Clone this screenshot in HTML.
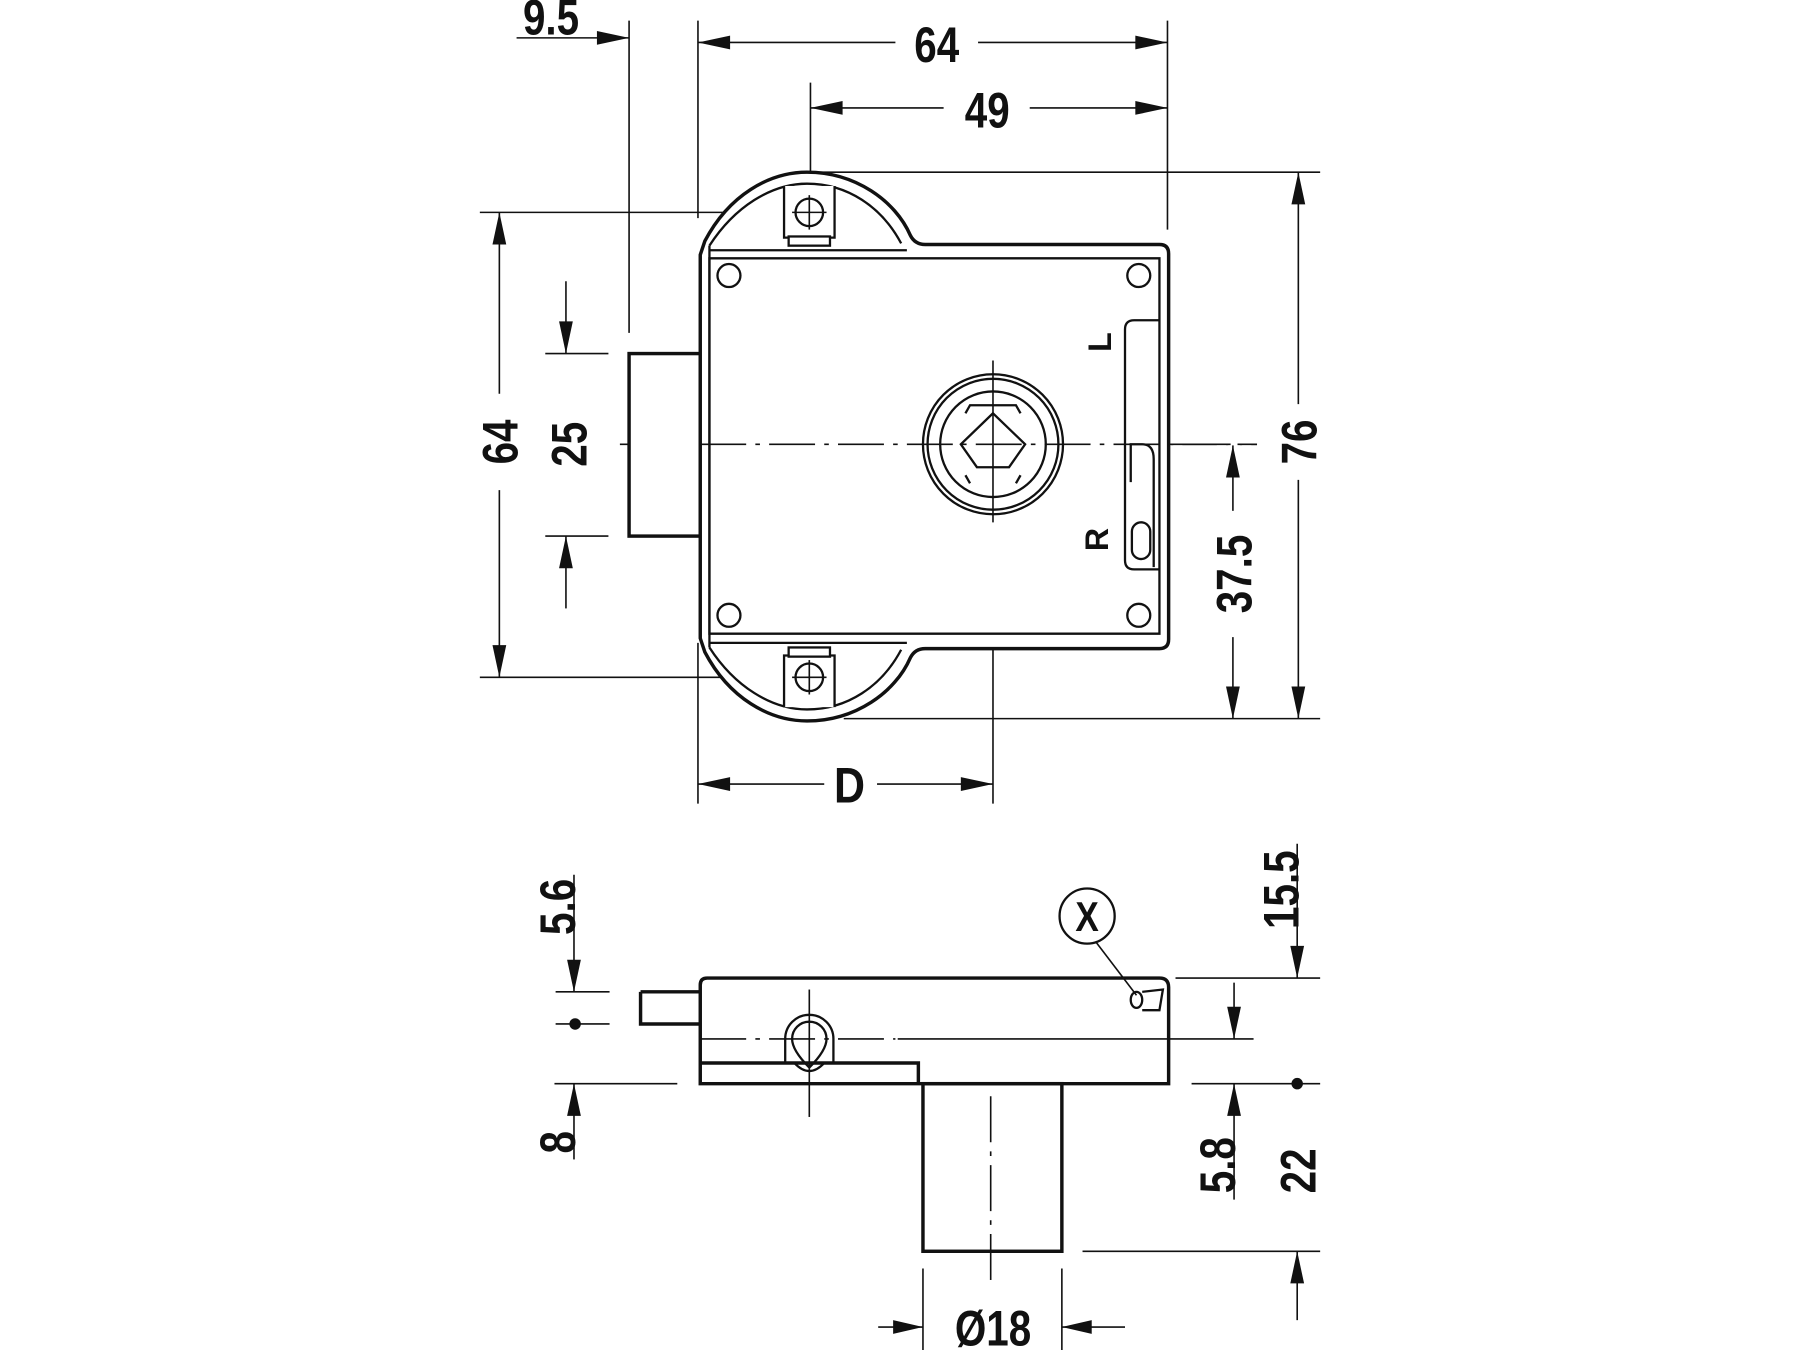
<!DOCTYPE html>
<html><head><meta charset="utf-8"><style>
html,body{margin:0;padding:0;background:#fff;}
svg{display:block;}
text{font-family:"Liberation Sans",sans-serif;font-weight:bold;fill:#111;}
</style></head><body>
<svg width="1800" height="1350" viewBox="0 0 1568 1176" preserveAspectRatio="none" xmlns="http://www.w3.org/2000/svg">
<g stroke="#111" fill="none" stroke-width="1.4">
<line x1="450" y1="33" x2="548" y2="33"/>
<line x1="548" y1="18" x2="548" y2="290"/>
<line x1="608" y1="18" x2="608" y2="190"/>
<line x1="1017" y1="18" x2="1017" y2="200"/>
<line x1="706" y1="72" x2="706" y2="200"/>
<line x1="608" y1="37" x2="780" y2="37"/><line x1="852" y1="37" x2="1017" y2="37"/>
<line x1="706" y1="94" x2="822" y2="94"/><line x1="897" y1="94" x2="1017" y2="94"/>
<line x1="706" y1="150" x2="1150" y2="150"/>
<line x1="418" y1="185" x2="720" y2="185"/>
<line x1="418" y1="590" x2="720" y2="590"/>
<line x1="435" y1="185" x2="435" y2="343"/><line x1="435" y1="427" x2="435" y2="590"/>
<line x1="493" y1="245" x2="493" y2="308"/><line x1="493" y1="467" x2="493" y2="530"/>
<line x1="475" y1="308" x2="530" y2="308"/><line x1="475" y1="467" x2="530" y2="467"/>
<line x1="540" y1="387" x2="1095" y2="387" stroke-dasharray="40 8 4 8"/>
<line x1="1131" y1="150" x2="1131" y2="352"/><line x1="1131" y1="418" x2="1131" y2="626"/>
<line x1="1074" y1="388" x2="1074" y2="445"/><line x1="1074" y1="555" x2="1074" y2="626"/>
<line x1="735" y1="626" x2="1150" y2="626"/>
<line x1="608" y1="560" x2="608" y2="700"/>
<line x1="865" y1="470" x2="865" y2="700"/>
<line x1="865" y1="314" x2="865" y2="455"/>
<line x1="608" y1="683" x2="718" y2="683"/><line x1="764" y1="683" x2="865" y2="683"/>
</g>
<g fill="#111" stroke="none">
<polygon points="548,33 520,27 520,39"/>
<polygon points="608,37 636,31 636,43"/><polygon points="1017,37 989,31 989,43"/>
<polygon points="706,94 734,88 734,100"/><polygon points="1017,94 989,88 989,100"/>
<polygon points="435,185 429,213 441,213"/><polygon points="435,590 429,562 441,562"/>
<polygon points="493,308 487,280 499,280"/><polygon points="493,467 487,495 499,495"/>
<polygon points="1131,150 1125,178 1137,178"/><polygon points="1131,626 1125,598 1137,598"/>
<polygon points="1074,388 1068,416 1080,416"/><polygon points="1074,626 1068,598 1080,598"/>
<polygon points="608,683 636,677 636,689"/><polygon points="865,683 837,677 837,689"/>
</g>
<g stroke="#111" fill="none" stroke-width="3">
<rect x="548" y="308" width="62" height="159" fill="#fff"/>
<path d="M610,222 L614,210 C635,170 670,150 703,150 C745,150 780,175 793,205 Q797,213 806,213 L1010,213 Q1018,213 1018,221 L1018,557 Q1018,565 1010,565 L806,565 Q797,565 793,573 C780,603 745,628 703,628 C670,628 635,608 614,568 L610,556 Z" fill="#fff"/>
</g>
<g stroke="#111" fill="none" stroke-width="2">
<path d="M618,214 C640,180 672,160 703,160 C738,160 768,180 785,212"/>
<path d="M618,564 C640,598 672,618 703,618 C738,618 768,598 785,566"/>
<line x1="618" y1="218" x2="790" y2="218"/>
<line x1="618" y1="560" x2="790" y2="560"/>
<path d="M618,225 L1010,225 L1010,552 L618,552 Z"/>
<line x1="618" y1="214" x2="618" y2="564"/>
<rect x="683" y="162" width="44" height="44" fill="#fff" stroke="none"/>
<path d="M683,162 L683,207 L727,207 L727,162"/>
<rect x="687" y="206" width="36" height="8" fill="#fff"/>
<rect x="683" y="572" width="44" height="44" fill="#fff" stroke="none"/>
<path d="M683,616 L683,571 L727,571 L727,616"/>
<rect x="687" y="564" width="36" height="8" fill="#fff"/>
<circle cx="705" cy="185" r="12"/><circle cx="705" cy="590" r="12"/>
<circle cx="635" cy="240" r="10"/><circle cx="992" cy="240" r="10"/>
<circle cx="635" cy="536" r="10"/><circle cx="992" cy="536" r="10"/>
<circle cx="865" cy="387" r="61"/><circle cx="865" cy="387" r="57"/>
<circle cx="865" cy="387" r="46"/>
<path d="M841,360 L845,353 L885,353 L889,360"/>
<path d="M841,414 L845,421 M889,414 L885,421"/>
<polygon points="865,360 893,387 879,407 851,407 837,387"/>
<path d="M1010,279 L988,279 Q980,279 980,287 L980,488 Q980,496 988,496 L1010,496"/>
<path d="M985,420 L985,387 L995,387 Q1005,387 1005,400 L1005,494"/>
<rect x="986" y="455" width="16" height="32" rx="8"/>
</g>
<g stroke="#111" stroke-width="1.4">
<line x1="865" y1="314" x2="865" y2="455"/>
<line x1="705" y1="170" x2="705" y2="200"/>
<line x1="690" y1="185" x2="720" y2="185"/>
<line x1="705" y1="575" x2="705" y2="605"/>
<line x1="690" y1="590" x2="720" y2="590"/>
<line x1="610" y1="387" x2="1095" y2="387" stroke-dasharray="40 8 4 8"/>
</g>

<g stroke="#111" fill="none" stroke-width="1.4">
<line x1="705" y1="862" x2="705" y2="973"/>
<line x1="610" y1="905" x2="780" y2="905" stroke-dasharray="40 8 4 8"/>
<line x1="782" y1="905" x2="1092" y2="905"/>
<line x1="863" y1="955" x2="863" y2="1115" stroke-dasharray="40 8 4 8"/>
<line x1="500" y1="762" x2="500" y2="864"/>
<line x1="484" y1="864" x2="531" y2="864"/>
<line x1="484" y1="892" x2="531" y2="892"/>
<line x1="483" y1="944" x2="590" y2="944"/>
<line x1="500" y1="944" x2="500" y2="1010"/>
<line x1="1130" y1="735" x2="1130" y2="852"/>
<line x1="1024" y1="852" x2="1150" y2="852"/>
<line x1="1075" y1="856" x2="1075" y2="905"/>
<line x1="1075" y1="944" x2="1075" y2="1045"/>
<line x1="1038" y1="944" x2="1150" y2="944"/>
<line x1="943" y1="1090" x2="1150" y2="1090"/>
<line x1="1130" y1="1090" x2="1130" y2="1150"/>
<line x1="804" y1="1105" x2="804" y2="1176"/>
<line x1="925" y1="1105" x2="925" y2="1176"/>
<line x1="765" y1="1156" x2="804" y2="1156"/>
<line x1="925" y1="1156" x2="980" y2="1156"/>
<line x1="955" y1="821" x2="990" y2="867"/>
</g>
<g fill="#111" stroke="none">
<polygon points="500,864 494,836 506,836"/>
<polygon points="500,944 494,972 506,972"/>
<circle cx="501" cy="892" r="5"/>
<polygon points="1130,852 1124,824 1136,824"/>
<polygon points="1075,905 1069,877 1081,877"/>
<polygon points="1075,944 1069,972 1081,972"/>
<circle cx="1130" cy="944" r="5"/>
<polygon points="1130,1090 1124,1118 1136,1118"/>
<polygon points="804,1156 778,1150 778,1162"/>
<polygon points="925,1156 951,1150 951,1162"/>
</g>
<g stroke="#111" fill="none" stroke-width="3">
<path d="M558,864 L610,864 M558,864 L558,892 L610,892"/>
<path d="M616,852 L1010,852 Q1018,852 1018,860 L1018,944 L610,944 L610,858 Q610,852 616,852 Z"/>
<path d="M610,926 L800,926 L800,944"/>
<rect x="804" y="944" width="121" height="146"/>
</g>
<g stroke="#111" fill="none" stroke-width="2">
<path d="M684,926 L684,905 A21,21 0 0 1 726,905 L726,926"/>
<path d="M690,905 A15,15 0 0 1 720,905 Q720,915 705,930 Q690,915 690,905 Z"/>
<path d="M692,926 Q705,940 718,926"/>
<circle cx="947" cy="798" r="24"/>
<ellipse cx="990" cy="871" rx="5" ry="7"/>
<path d="M995,864 L1013,862 L1010,880 L995,880"/>
</g>

<g font-size="44" text-anchor="middle">
<text transform="translate(480,30) scale(0.8,1)">9.5</text>
<text transform="translate(816,54) scale(0.8,1)">64</text>
<text transform="translate(860,111) scale(0.8,1)">49</text>
<text transform="translate(451,385) rotate(-90) scale(0.8,1)">64</text>
<text transform="translate(511,387) rotate(-90) scale(0.8,1)">25</text>
<text transform="translate(1147,385) rotate(-90) scale(0.8,1)">76</text>
<text transform="translate(1090,500) rotate(-90) scale(0.8,1)">37.5</text>
<text transform="translate(740,699) scale(0.85,1)">D</text>
<text transform="translate(501,790) rotate(-90) scale(0.8,1)">5.6</text>
<text transform="translate(501,995) rotate(-90) scale(0.8,1)">8</text>
<text transform="translate(1131,775) rotate(-90) scale(0.8,1)">15.5</text>
<text transform="translate(1076,1015) rotate(-90) scale(0.8,1)">5.8</text>
<text transform="translate(1146,1020) rotate(-90) scale(0.8,1)">22</text>
<text transform="translate(865,1172) scale(0.8,1)">Ø18</text>
</g>
<text transform="translate(968,298) rotate(-90)" font-size="28" text-anchor="middle">L</text>
<text transform="translate(965,470) rotate(-90)" font-size="28" text-anchor="middle">R</text>
<text transform="translate(947,811) scale(0.85,1)" font-size="36" text-anchor="middle">X</text>
</svg>
</body></html>
